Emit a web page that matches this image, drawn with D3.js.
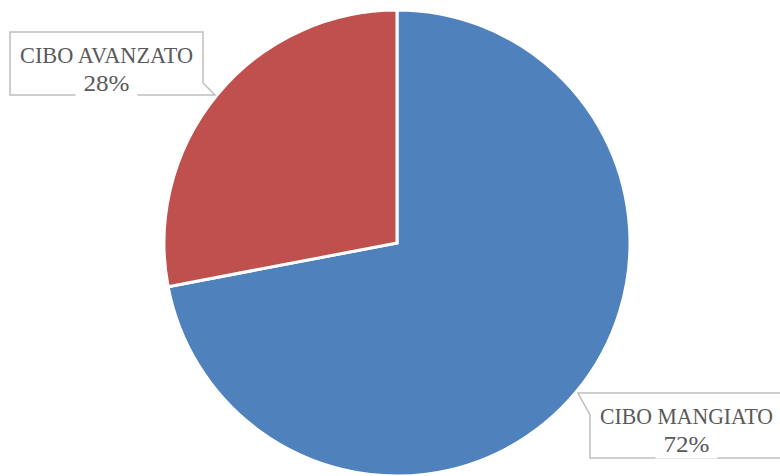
<!DOCTYPE html>
<html>
<head>
<meta charset="utf-8">
<script src="https://cdn.jsdelivr.net/npm/d3@7"></script>
<style>
  body { margin: 0; background: #fff; }
  svg { display: block; }
  .lbl { font-family: "Liberation Serif", "DejaVu Serif", serif; font-size: 24px; fill: #595959; }
</style>
</head>
<body>
<svg id="chart" width="780" height="476"></svg>
<script>
var categories = ["CIBO MANGIATO", "CIBO AVANZATO"];
var values = [72, 28];
var colors = ["#4F81BD", "#C0504D"];

var svg = d3.select("#chart"),
    CX = 397,
    CY = 243,
    R = 233;

var pie = d3.pie().sort(null).value(function(d) { return d; });
var arc = d3.arc().innerRadius(0).outerRadius(R);
var arcs = pie(values);

var g = svg.append("g").attr("transform", "translate(" + CX + "," + CY + ")");
g.selectAll("path")
  .data(arcs)
  .enter().append("path")
  .attr("d", arc)
  .attr("fill", function(d, i) { return colors[i]; })
  .attr("stroke", "#fff")
  .attr("stroke-width", 3)
  .attr("stroke-linejoin", "miter");

// callout boxes: [left, top, right, bottom], pointer tip, text centre
var callouts = [
  { i: 1, box: [10, 32, 203, 95], tip: [215, 95], side: "right", cx: 106.5 },
  { i: 0, box: [590, 393, 800, 458], tip: [578, 393], side: "left", cx: 686.5 }
];

callouts.forEach(function(c) {
  var b = c.box, t = c.tip, pts;
  if (c.side === "right") {
    pts = [[b[0], b[1]], [b[2], b[1]], [b[2], b[3] - 12], t, [b[2] - 4, b[3]], [b[0], b[3]]];
  } else {
    pts = [[b[0] + 4, b[1]], [b[2], b[1]], [b[2], b[3]], [b[0], b[3]], [b[0], b[1] + 22], t];
  }
  svg.append("path")
    .attr("d", d3.line()(pts) + "Z")
    .attr("fill", "#fff")
    .attr("stroke", "#BFBFBF")
    .attr("stroke-width", 1.5);

  svg.append("text").attr("class", "lbl")
    .attr("x", c.cx).attr("y", b[1] + 30.5)
    .attr("text-anchor", "middle")
    .attr("textLength", 173)
    .attr("lengthAdjust", "spacingAndGlyphs")
    .text(categories[c.i]);

  var pct = svg.append("text").attr("class", "lbl")
    .attr("x", c.cx).attr("y", b[1] + 58.5)
    .attr("text-anchor", "middle")
    .attr("textLength", 46)
    .attr("lengthAdjust", "spacingAndGlyphs")
    .text(values[c.i] + "%");
  var bb = pct.node().getBBox();
  svg.insert("rect", function() { return pct.node(); })
    .attr("x", bb.x - 8).attr("y", bb.y)
    .attr("width", bb.width + 16).attr("height", bb.height + 2)
    .attr("fill", "#fff");
});
</script>
</body>
</html>
